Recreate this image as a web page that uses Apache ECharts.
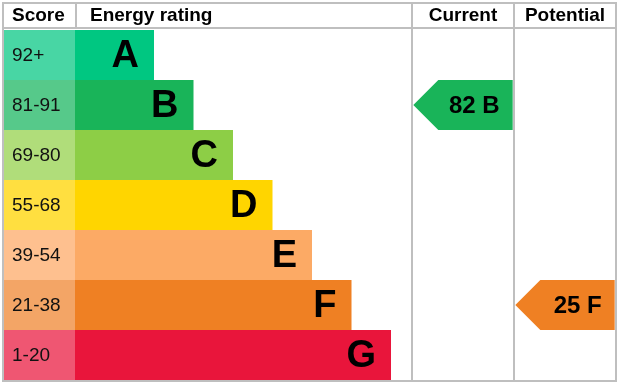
<!DOCTYPE html>
<html><head><meta charset="utf-8">
<script src="https://cdn.jsdelivr.net/npm/echarts@6/dist/echarts.min.js"></script>
<style>html,body{margin:0;padding:0;background:#fff}#c{width:619px;height:384px}</style>
</head><body><div id="c"></div><script>
// ---- data ----
const ratings = ['A','B','C','D','E','F','G'];
const scoreRanges = ['92+','81-91','69-80','55-68','39-54','21-38','1-20'];
const barLengths = [2,3,4,5,6,7,8];
const barColors = ['#00c781','#19b459','#8dce46','#ffd500','#fcaa65','#ef8023','#e9153b'];
const scoreColors = ['#48d6a4','#56c98a','#b0dd7a','#ffdf40','#fec08f','#f3a566','#ef5672'];
const columns = ['Current','Potential'];
const headers = ['Score','Energy rating'];
const currentScore = 82, currentRating = 'B';
const potentialScore = 25, potentialRating = 'F';

const FONT = 'Arial, Helvetica, sans-serif';
const chart = echarts.init(document.getElementById('c'), null, {renderer:'canvas'});
const lineColor = '#bfbfbf';
const arrowData = [
  [0, ratings.indexOf(currentRating), currentScore, currentRating],
  [1, ratings.indexOf(potentialRating), potentialScore, potentialRating]
];

function hdr(text, x, align){
  return {type:'text', x:x, y:16, z:100,
    style:{text:text, align:align, verticalAlign:'middle', font:'bold 19px '+FONT, fill:'#000'}};
}
function rect(x,y,w,h){
  return {type:'rect', z:100, shape:{x:x,y:y,width:w,height:h}, style:{fill:lineColor}};
}

chart.setOption({
  animation:false,
  grid:[
    {left:4, top:30, width:71, height:350},
    {left:75, top:30, width:316, height:350},
    {left:412, top:30, width:204, height:350}
  ],
  xAxis:[
    {gridIndex:0, type:'value', min:0, max:1, show:false},
    {gridIndex:1, type:'value', min:0, max:8, show:false},
    {gridIndex:2, type:'category', data:columns, show:false}
  ],
  yAxis:[
    {gridIndex:0, type:'category', data:ratings, inverse:true, show:false},
    {gridIndex:1, type:'category', data:ratings, inverse:true, show:false},
    {gridIndex:2, type:'category', data:ratings, inverse:true, show:false}
  ],
  series:[
    {type:'bar', xAxisIndex:0, yAxisIndex:0, barCategoryGap:'0%',
      data: scoreRanges.map((s,i)=>({value:1, itemStyle:{color:scoreColors[i]}})),
      label:{show:true, position:'insideLeft', distance:8, offset:[0,1], fontSize:19, fontFamily:FONT, color:'#111',
        formatter:p=>scoreRanges[p.dataIndex]}
    },
    {type:'bar', xAxisIndex:1, yAxisIndex:1, barCategoryGap:'0%',
      data: barLengths.map((v,i)=>({value:v, itemStyle:{color:barColors[i]}})),
      label:{show:true, position:'insideRight', distance:15, offset:[0,2], fontSize:38, fontWeight:'bold', fontFamily:FONT, color:'#000',
        formatter:p=>ratings[p.dataIndex]}
    },
    {type:'custom', xAxisIndex:2, yAxisIndex:2, data:arrowData,
      renderItem:function(params, api){
        const c = api.coord([api.value(0), api.value(1)]);
        const s = api.size([1,1]);
        const x0 = c[0]-s[0]/2+1.3, x1 = c[0]+s[0]/2-1.3;
        const y0 = c[1]-s[1]/2, y1 = c[1]+s[1]/2;
        const tip = s[1]/2;
        const d = arrowData[params.dataIndex];
        const col = barColors[d[1]];
        return {type:'group', children:[
          {type:'polygon', shape:{points:[[x0,c[1]],[x0+tip,y0],[x1,y0],[x1,y1],[x0+tip,y1]]}, style:{fill:col}},
          {type:'text', x:x1-13, y:c[1]+1, style:{text:d[2]+' '+d[3], align:'right', verticalAlign:'middle',
            font:'bold 24px '+FONT, fill:'#000'}}
        ]};
      }
    }
  ],
  graphic:[
    rect(2,2,615,2), rect(2,27,615,2), rect(2,2,2,380), rect(2,380,615,2), rect(615,2,2,380),
    rect(75,2,2,27), rect(411,2,2,380), rect(513,2,2,380),
    hdr(headers[0], 12, 'left'), hdr(headers[1], 90, 'left'),
    hdr(columns[0], 463, 'center'), hdr(columns[1], 565, 'center')
  ]
});
</script></body></html>
